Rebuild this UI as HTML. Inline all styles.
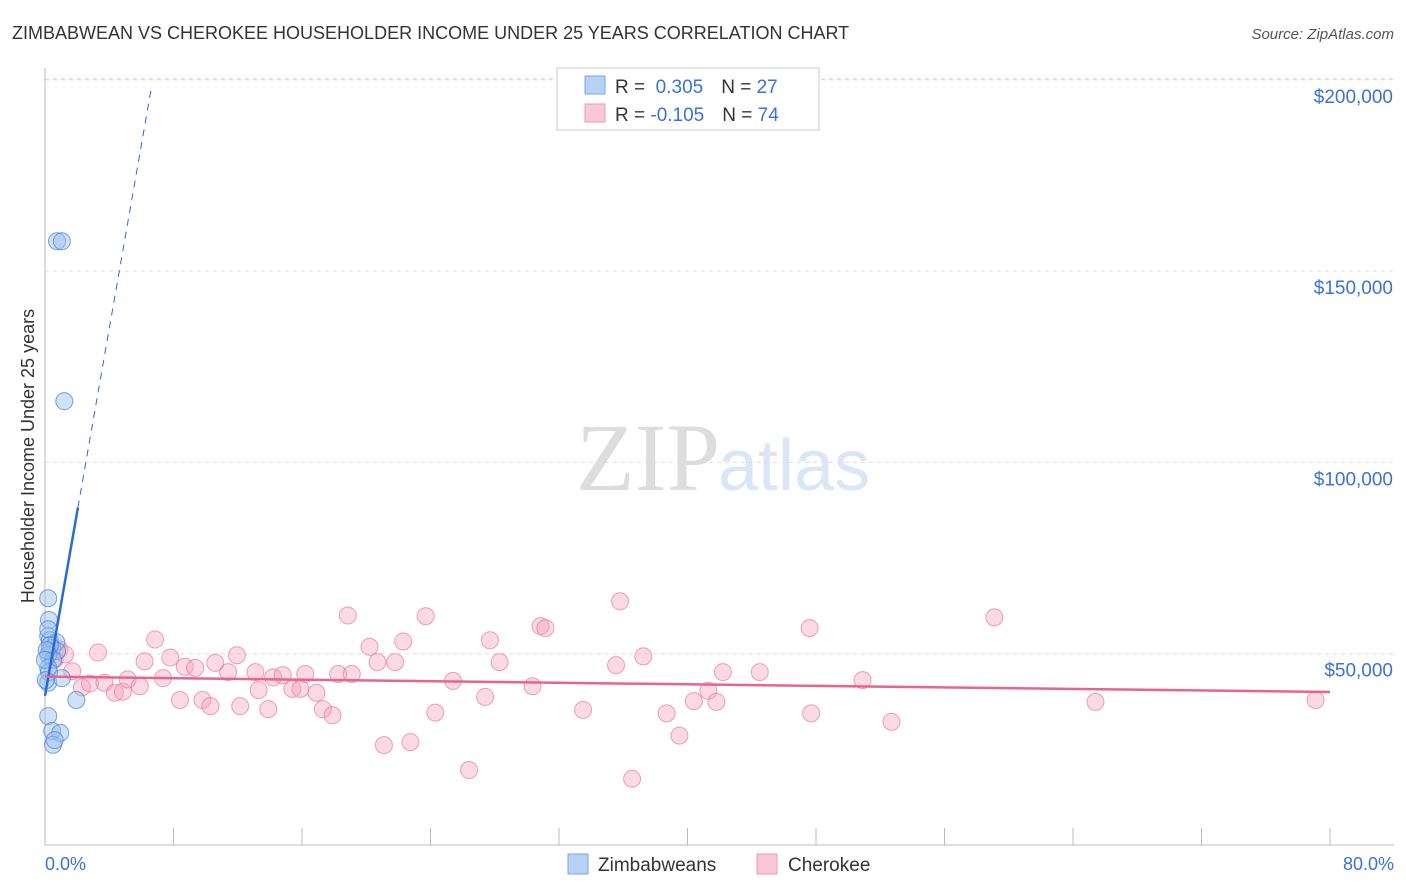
<!DOCTYPE html>
<html><head><meta charset="utf-8"><style>
body{margin:0;background:#fff;font-family:"Liberation Sans",sans-serif}
svg{display:block}
</style></head><body>
<svg width="1406" height="892" xmlns="http://www.w3.org/2000/svg">
<text x="12" y="39" font-size="18" fill="#333">ZIMBABWEAN VS CHEROKEE HOUSEHOLDER INCOME UNDER 25 YEARS CORRELATION CHART</text>
<text x="1394" y="39" font-size="15" fill="#555" font-style="italic" text-anchor="end">Source: ZipAtlas.com</text>
<text x="720" y="490" font-size="96" fill="#ddd" text-anchor="end" font-family="Liberation Serif">ZIP</text>
<text x="718" y="490" font-size="72" fill="#dbe6f5">atlas</text>
<g id="grid"></g>
<line x1="45" y1="68" x2="45" y2="845" stroke="#bbb"/>
<line x1="45" y1="845" x2="1394" y2="845" stroke="#bbb"/>
<g id="xticks"></g>
<text x="45" y="870" font-size="18" fill="#3a72d8">0.0%</text>
<text x="1394" y="870" font-size="18" fill="#3a72d8" text-anchor="end">80.0%</text>
<text transform="translate(34,456) rotate(-90)" font-size="18" fill="#333" text-anchor="middle">Householder Income Under 25 years</text>
<g id="pink"></g><g id="blue"></g><g id="lines"></g>
<g>
<rect x="557" y="68" width="262" height="62" fill="#fff" stroke="#ccc"/>
<rect x="585" y="76" width="20" height="18" fill="#b7d2f5" stroke="#7aa6e6"/>
<rect x="585" y="104" width="20" height="18" fill="#f8c8d8" stroke="#eb9bb6"/>
<text x="615" y="93" font-size="19" fill="#333">R = <tspan fill="#3a72d8">&#160;0.305</tspan><tspan dx="18">N = </tspan><tspan fill="#3a72d8">27</tspan></text>
<text x="615" y="121" font-size="19" fill="#333">R = <tspan fill="#3a72d8">-0.105</tspan><tspan dx="18">N = </tspan><tspan fill="#3a72d8">74</tspan></text>
</g>
<g>
<rect x="568" y="854" width="20" height="20" fill="#b7d2f5" stroke="#7aa6e6"/>
<text x="598" y="871" font-size="19" fill="#333">Zimbabweans</text>
<rect x="757" y="854" width="20" height="20" fill="#f8c8d8" stroke="#eb9bb6"/>
<text x="788" y="871" font-size="19" fill="#333">Cherokee</text>
</g>
</svg>
<script>
const yTicks=[50000,100000,150000,200000];
const yTickLabels=["$50,000","$100,000","$150,000","$200,000"];
const xTicks=[0,10,20,30,40,50,60,70,80,90,100];
const blueX=[0.2,0.25,0.2,0.3,0.7,0.45,0.75,0.2,0.5,0.2,0.2,0.25,1.05,1.95,0.2,0.45,0.95,0.5,0.6,0.75,1.05,1.2,0.3,0.1,0.0,0.2,0.05];
const blueY=[64500,58800,54600,53500,53000,51500,50700,49700,48400,46300,42400,45200,43600,37900,33700,29800,29300,26200,27400,157800,157800,116000,52200,50900,48400,56400,43100];
const pinkX=[0.3,0.6,0.9,1.25,1.7,2.3,2.8,3.3,3.7,4.35,4.85,5.15,5.9,6.2,6.85,7.35,7.8,8.4,8.7,9.35,9.8,10.3,10.6,11.4,11.95,12.15,13.1,13.3,13.9,14.2,14.8,15.4,15.9,16.2,16.9,17.3,17.9,18.25,18.85,19.1,20.2,20.7,21.1,21.8,22.3,22.75,23.7,24.3,25.4,26.4,27.4,27.7,28.3,30.35,30.85,31.15,33.5,35.55,35.8,36.55,37.25,38.7,39.5,40.4,41.3,41.8,42.2,44.5,47.6,47.7,50.9,52.7,59.1,65.4,79.1];
const pinkY=[51100,48400,51100,49800,45400,41200,42200,50300,42400,39800,40100,43300,41500,48000,53700,43600,49000,37900,46600,46300,37900,36300,47600,45200,49600,36300,45200,40500,35500,43800,44400,40800,40800,44700,39800,35500,33900,44700,60000,44700,51800,47800,26100,47800,53200,26900,59800,34600,42900,19600,38700,53500,47800,41500,57200,56700,35300,47000,63700,17300,49300,34400,28600,37600,40300,37400,45200,45200,56700,34400,43100,32200,59500,37400,37900];
const blueFit=[-0.2,39000]; // pct offset, value at 0 and slope per pct
const blueSlope=[24000];
const pinkFit=[44000,40000]; // value at 0%, value at 80%
const X=p=>45+p*16.0625, Y=v=>845-v/50000*191.3;
const NS="http://www.w3.org/2000/svg";
function mk(parent,tag,attrs){const e=document.createElementNS(NS,tag);for(const k in attrs)e.setAttribute(k,attrs[k]);document.getElementById(parent).appendChild(e);return e;}
yTicks.forEach((v,i)=>{
 const l=mk('grid','line',{x1:45,x2:1394,y1:Y(v),y2:Y(v),stroke:'#ddd','stroke-dasharray':'4,4'});
 
 
 const t=mk('grid','text',{x:1393,y:Y(v)+23,'font-size':19,fill:'#3a72d8','text-anchor':'end'});
 t.textContent=yTickLabels[i];
 
 
});
const tg=mk('grid','line',{x1:45,x2:1394,y1:79,y2:79,stroke:'#ddd','stroke-dasharray':'4,4'});


xTicks.forEach(p=>{const x=45+p*12.85;if(x>1394)return;
 const l=mk('xticks','line',{x1:x,x2:x,y1:828,y2:845,stroke:'#bbb'});
 
 
});
pinkX.forEach((p,i)=>{const c=mk('pink','circle',{cx:X(p),cy:Y(pinkY[i]),r:8.5,fill:'rgba(244,160,190,0.4)',stroke:'rgba(232,120,160,0.7)','stroke-width':1});
 
 
});
blueX.forEach((p,i)=>{const c=mk('blue','circle',{cx:X(p),cy:Y(blueY[i]),r:8.5,fill:'rgba(150,190,240,0.45)',stroke:'rgba(80,130,220,0.75)','stroke-width':1});
 
 
});
const bv=p=>blueFit[1]+blueSlope[0]*p;
let s=mk('lines','line',{x1:X(0),y1:Y(bv(0)),x2:X(2.05),y2:Y(bv(2.05)),stroke:'#2a6ad8','stroke-width':2.5});


s=mk('lines','line',{x1:X(2.05),y1:Y(bv(2.05)),x2:X(6.6),y2:Y(bv(6.6)),stroke:'#2a6ad8','stroke-width':1,'stroke-dasharray':'7,6'});


s=mk('lines','line',{x1:X(0),y1:Y(pinkFit[0]),x2:X(80),y2:Y(pinkFit[1]),stroke:'#e8648f','stroke-width':2.5});


</script>
</body></html>
